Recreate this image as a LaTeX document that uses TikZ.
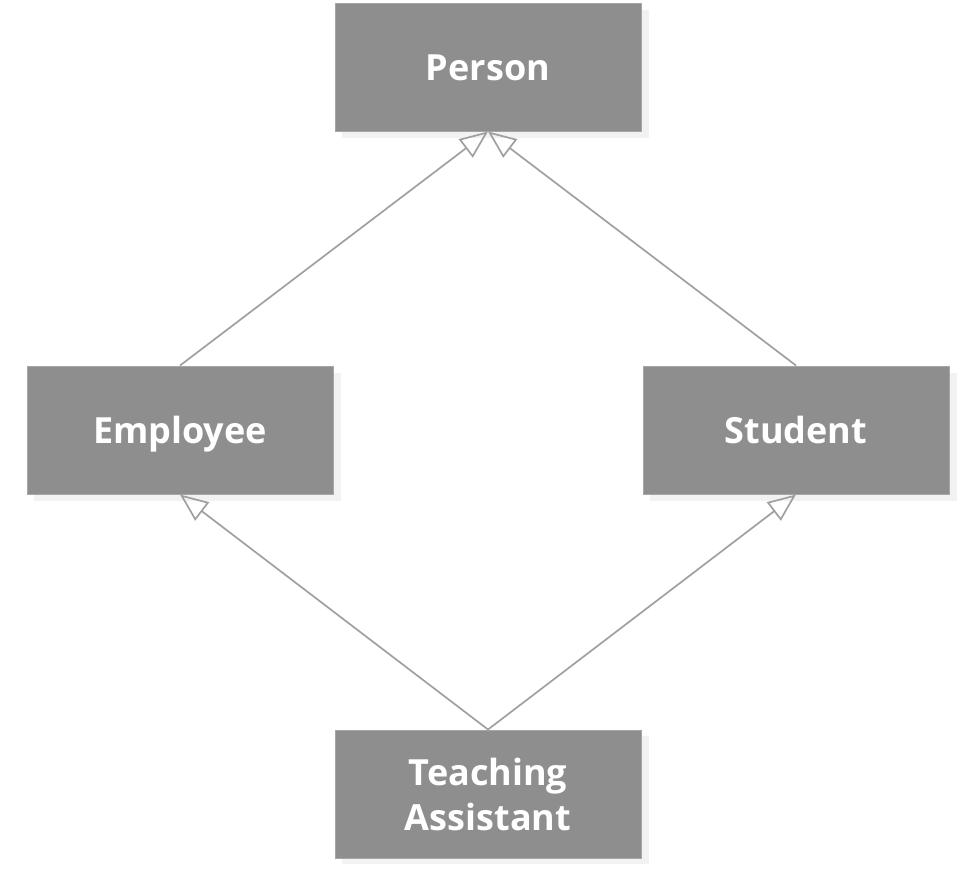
\documentclass[tikz,border=0pt]{standalone}
\usepackage{fontspec}
\setmainfont{Open Sans}
\usetikzlibrary{arrows.meta}
\definecolor{boxfill}{HTML}{8E8E8E}
\definecolor{boxline}{HTML}{A6A6A6}
\definecolor{shadowc}{HTML}{F2F2F2}
\definecolor{linec}{HTML}{A0A0A0}
\begin{document}
\begin{tikzpicture}[x=1pt,y=-1pt,
  cls/.style={draw=boxline, line width=1pt, fill=boxfill, minimum width=306pt, minimum height=128pt,
    inner sep=0pt, text=white, font=\fontsize{36}{45}\selectfont\bfseries, align=center,
    text height=26pt, text depth=0pt},
  inherit/.style={draw=linec, line width=1.7pt, -{Triangle[open, length=28pt, width=23pt, line width=1.7pt]}}]
\useasboundingbox (0,0) rectangle (973,871);
% shadows
\fill[shadowc] (342,10) rectangle (649,138);
\fill[shadowc] (34,373) rectangle (341,501);
\fill[shadowc] (650,373) rectangle (957,501);
\fill[shadowc] (342,736) rectangle (649,864);
% boxes
\node[cls] (person) at (488,67) {Person};
\node[cls] (employee) at (180,430) {Employee};
\node[cls] (student) at (796,430) {Student};
\node[cls, text height=72pt] (ta) at (488,794) {Teaching\\Assistant};
% inheritance connectors
\draw[inherit] (employee.north) -- (person.south);
\draw[inherit] (student.north) -- (person.south);
\draw[inherit] (ta.north) -- (employee.south);
\draw[inherit] (ta.north) -- (student.south);
\end{tikzpicture}
\end{document}
